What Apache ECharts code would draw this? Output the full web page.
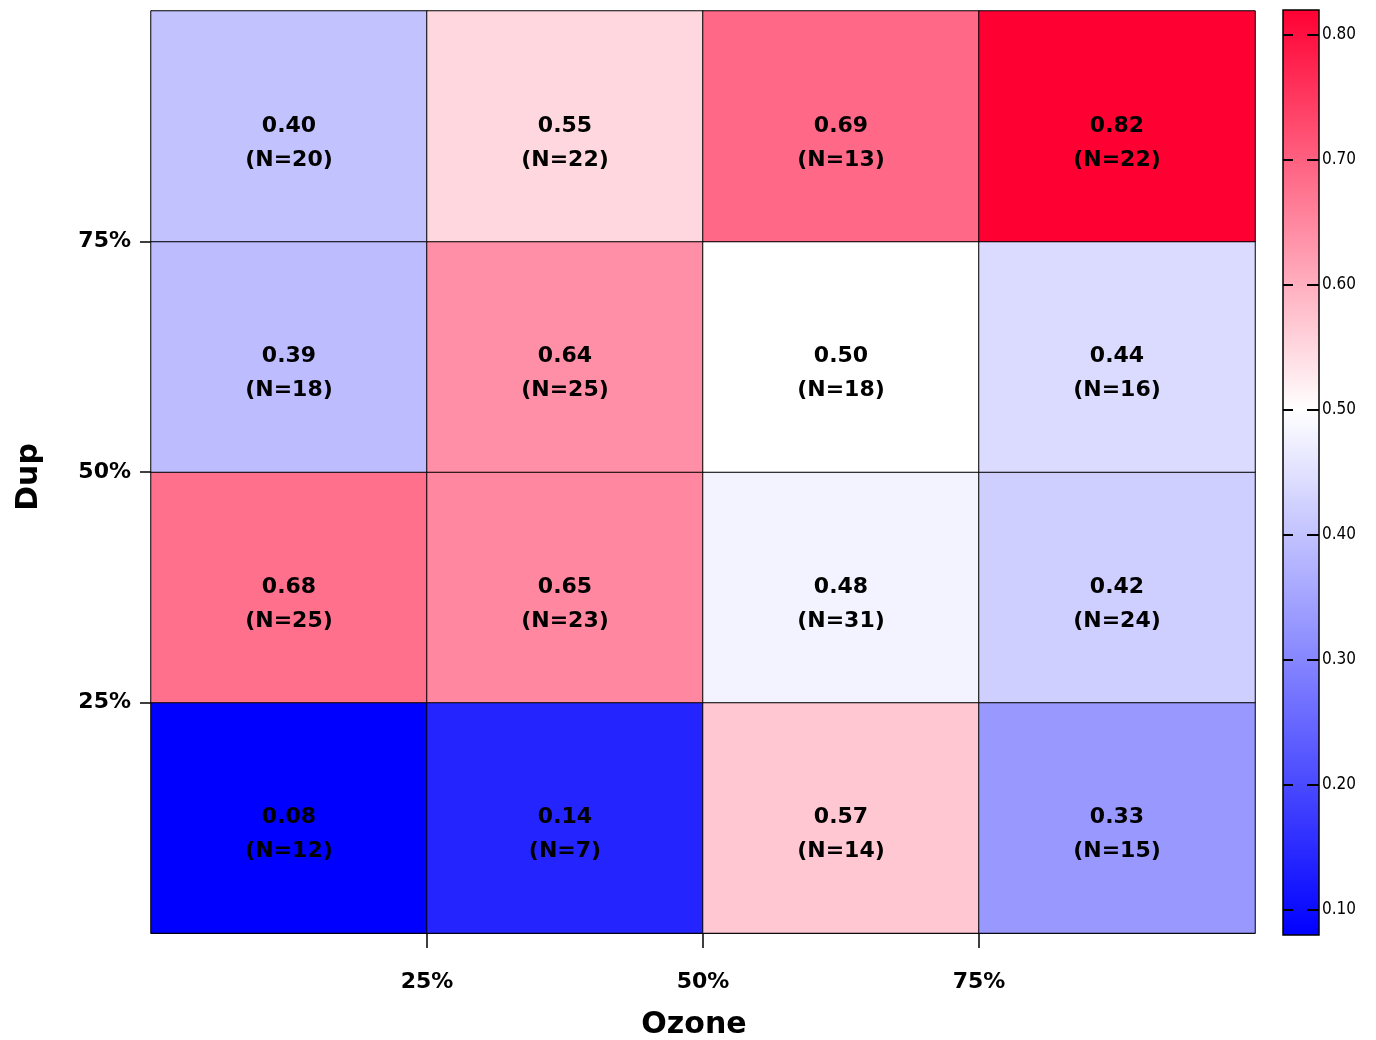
<!DOCTYPE html>
<html>
<head>
<meta charset="utf-8">
<script src="https://cdn.jsdelivr.net/npm/echarts@6/dist/echarts.min.js"></script>
<style>
  html, body { margin: 0; padding: 0; background: #fff; }
  #chart { width: 1376px; height: 1040px; }
</style>
</head>
<body>
<div id="chart"></div>
<script>
// ---- data ----
const ozoneBins = ['0-25%', '25-50%', '50-75%', '75-100%'];   // x categories (left to right)
const dupBins   = ['0-25%', '25-50%', '50-75%', '75-100%'];   // y categories (bottom to top)
// rows bottom -> top, columns left -> right
const shareValues = [
  [0.08, 0.14, 0.57, 0.33],
  [0.68, 0.65, 0.48, 0.42],
  [0.39, 0.64, 0.50, 0.44],
  [0.40, 0.55, 0.69, 0.82]
];
const sampleCounts = [
  [12, 7, 14, 15],
  [25, 23, 31, 24],
  [18, 25, 18, 16],
  [20, 22, 13, 22]
];
const quartileTicks = [25, 50, 75];
const colorbarTicks = [0.10, 0.20, 0.30, 0.40, 0.50, 0.60, 0.70, 0.80];
const colorMin = 0.08, colorMax = 0.82, colorMid = 0.50;

// ---- build heatmap data ----
const heatData = [];
for (let r = 0; r < dupBins.length; r++) {
  for (let c = 0; c < ozoneBins.length; c++) {
    heatData.push([c, r, shareValues[r][c], sampleCounts[r][c]]);
  }
}

// ---- diverging colour ramp (blue -> white at 0.5 -> red) ----
function rampColor(v) {
  let R, G, B;
  if (v <= colorMid) {
    const t = (v - colorMin) / (colorMid - colorMin);
    R = 255 * t; G = 255 * t; B = 255;
  } else {
    const t = (v - colorMid) / (colorMax - colorMid);
    R = 255; G = 255 * (1 - t); B = 255 - (255 - 51) * t;
  }
  return 'rgb(' + Math.round(R) + ',' + Math.round(G) + ',' + Math.round(B) + ')';
}
const rampStops = [];
const nStops = 75;
for (let i = 0; i < nStops; i++) {
  rampStops.push(rampColor(colorMin + (colorMax - colorMin) * i / (nStops - 1)));
}
// gradient stops for the colour bar (offset 0 = bottom = colorMin)
const gradientStops = rampStops.map((c, i) => ({ offset: i / (nStops - 1), color: c }));

const chart = echarts.init(document.getElementById('chart'), null, { renderer: 'canvas' });
const labelFont = 'DejaVu Sans, Liberation Sans, Arial, sans-serif';

// colour bar drawn through the colour-bar grid's own y scale
function renderColorBar(params, api) {
  const cs = params.coordSys;
  const yTop = api.coord([0, colorMax])[1];
  const yBot = api.coord([0, colorMin])[1];
  const x0 = cs.x, w = cs.width;
  const children = [{
    type: 'rect',
    shape: { x: x0, y: yTop, width: w, height: yBot - yTop },
    style: {
      fill: new echarts.graphic.LinearGradient(0, 1, 0, 0, gradientStops),
      stroke: '#000', lineWidth: 1.5
    }
  }];
  colorbarTicks.forEach(v => {
    const y = Math.round(api.coord([0, v])[1]);
    children.push({ type: 'line', shape: { x1: x0, y1: y, x2: x0 + 10, y2: y }, style: { stroke: '#000', lineWidth: 2 } });
    children.push({ type: 'line', shape: { x1: x0 + w - 12, y1: y, x2: x0 + w, y2: y }, style: { stroke: '#000', lineWidth: 2 } });
  });
  return { type: 'group', children: children };
}

const option = {
  backgroundColor: '#fff',
  animation: false,
  grid: [
    { left: 151, top: 11, width: 1104, height: 922, containLabel: false, outerBoundsMode: 'none' },
    { left: 1283, top: 10, width: 36, height: 925, containLabel: false, outerBoundsMode: 'none' }
  ],
  visualMap: {
    show: false,
    type: 'continuous',
    min: colorMin,
    max: colorMax,
    dimension: 2,
    seriesIndex: 0,
    inRange: { color: rampStops }
  },
  xAxis: [
    { type: 'category', gridIndex: 0, data: ozoneBins, show: false },
    {
      type: 'value', gridIndex: 0, min: 0, max: 100, position: 'bottom',
      splitLine: { show: false },
      axisLine: { show: true, lineStyle: { color: '#000', width: 1 } },
      axisTick: { show: true, customValues: quartileTicks, length: 15, lineStyle: { color: '#000', width: 1.5 } },
      axisLabel: {
        customValues: quartileTicks, formatter: v => v + '%', margin: 38,
        color: '#000', fontSize: 22, fontWeight: 'bold', fontFamily: labelFont
      },
      name: 'Ozone', nameLocation: 'middle', nameGap: 77,
      nameTextStyle: { color: '#000', fontSize: 30, fontWeight: 'bold', fontFamily: labelFont, padding: [0, 18, 0, 0] }
    },
    { type: 'category', gridIndex: 1, data: [''], show: false }
  ],
  yAxis: [
    { type: 'category', gridIndex: 0, data: dupBins, show: false },
    {
      type: 'value', gridIndex: 0, min: 0, max: 100, position: 'left',
      splitLine: { show: false },
      axisLine: { show: true, lineStyle: { color: '#000', width: 1 } },
      axisTick: { show: true, customValues: quartileTicks, length: 11, lineStyle: { color: '#000', width: 1.5 } },
      axisLabel: {
        customValues: quartileTicks, formatter: v => v + '%', margin: 20,
        color: '#000', fontSize: 22, fontWeight: 'bold', fontFamily: labelFont, padding: [0, 0, 5, 0]
      },
      name: 'Dup', nameLocation: 'middle', nameGap: 107, nameRotate: 90,
      nameTextStyle: { color: '#000', fontSize: 30, fontWeight: 'bold', fontFamily: labelFont, padding: [0, 10, 0, 0] }
    },
    {
      type: 'value', gridIndex: 1, min: colorMin, max: colorMax, position: 'right',
      splitLine: { show: false },
      axisLine: { show: false },
      axisTick: { show: false },
      axisLabel: {
        customValues: colorbarTicks, formatter: v => v.toFixed(2), margin: 3,
        color: '#000', fontSize: 17, fontFamily: 'DejaVu Sans Condensed, Liberation Sans Narrow, Liberation Sans, sans-serif'
      }
    }
  ],
  series: [{
    type: 'heatmap',
    xAxisIndex: 0,
    yAxisIndex: 0,
    data: heatData,
    itemStyle: { borderColor: '#000', borderWidth: 1 },
    emphasis: { disabled: true },
    label: {
      show: true,
      formatter: p => p.value[2].toFixed(2) + '\n(N=' + p.value[3] + ')',
      color: '#000',
      fontSize: 22,
      fontWeight: 'bold',
      fontFamily: labelFont,
      lineHeight: 34,
      offset: [0, 17]
    }
  }, {
    type: 'custom',
    xAxisIndex: 2,
    yAxisIndex: 2,
    data: [[0, colorMin]],
    renderItem: renderColorBar,
    silent: true,
    z: 5
  }]
};
chart.setOption(option);
</script>
</body>
</html>
